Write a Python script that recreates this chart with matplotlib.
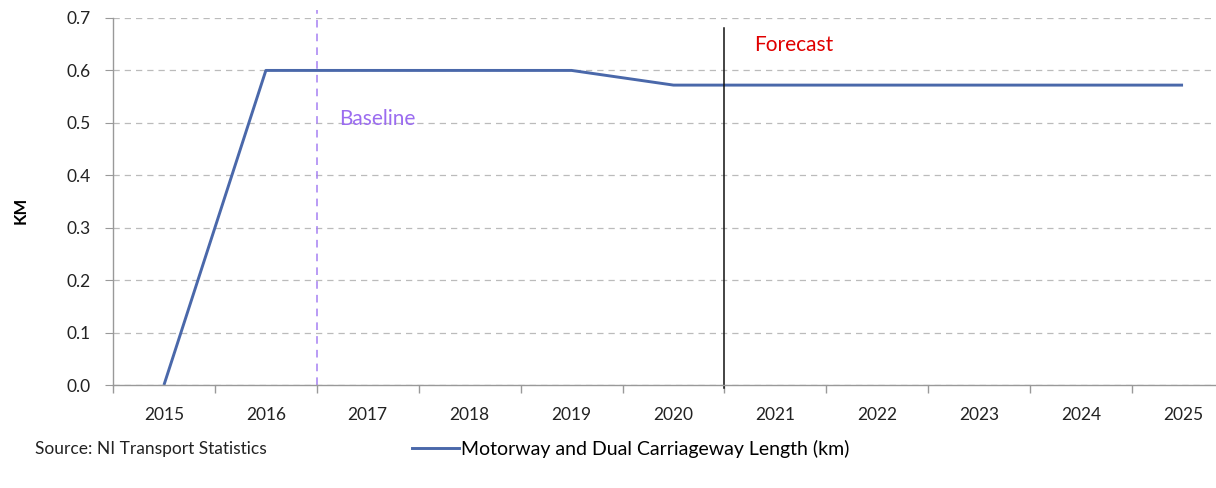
import matplotlib
matplotlib.use("Agg")
import matplotlib.pyplot as plt
from matplotlib.lines import Line2D

years = [2015, 2016, 2017, 2018, 2019, 2020, 2021, 2022, 2023, 2024, 2025]
length_km = [0.0, 0.60, 0.60, 0.60, 0.60, 0.572, 0.572, 0.572, 0.572, 0.572, 0.572]
y_ticks = [0.0, 0.1, 0.2, 0.3, 0.4, 0.5, 0.6, 0.7]
series_label = "Motorway and Dual Carriageway Length (km)"
baseline_pos = 2016.5
forecast_pos = 2020.5

plt.rcParams['font.family'] = ['Lato', 'DejaVu Sans']

W, H = 1216, 488
fig = plt.figure(figsize=(W / 100, H / 100), dpi=100)
ax = fig.add_axes([113 / W, 1 - 385 / H, (1234 - 113) / W, (385 - 18) / H])

line_color = '#4A68AA'
ax.plot(years, length_km, color=line_color, lw=2.1, solid_capstyle='butt')

ax.set_xlim(years[0] - 0.5, years[-1] + 0.5)
ax.set_ylim(0, 0.7)
ax.set_yticks(y_ticks)
ax.set_yticklabels([f"{v:.1f}" for v in y_ticks])
ax.set_xticks(years)
ax.set_xticklabels([str(y) for y in years])
ax.set_xticks([y + 0.5 for y in [years[0] - 1] + years], minor=True)
ax.tick_params(axis='x', which='major', length=0, pad=16, labelsize=12.5, labelcolor='#222222')
ax.tick_params(axis='x', which='minor', length=6, color='#999999', width=1)
ax.tick_params(axis='y', length=6, color='#999999', labelsize=12.5, labelcolor='#222222', pad=10)

ax.grid(axis='y', linestyle=(0, (5, 4)), color='#BBBBBB', lw=0.9)
ax.set_axisbelow(True)
for s in ['top', 'right']:
    ax.spines[s].set_visible(False)
for s in ['left', 'bottom']:
    ax.spines[s].set_color('#999999')
    ax.spines[s].set_linewidth(1.0)

ax.set_ylabel("KM", fontsize=12, fontweight='bold')
ax.yaxis.set_label_coords(-84 / (1234 - 113), 0.475)

# Baseline marker
ax.plot([baseline_pos, baseline_pos], [0, 0.715], color='#A580F2', lw=1.1,
        linestyle=(0, (5, 4)), clip_on=False)
ax.text(baseline_pos + 0.22, 0.508, "Baseline", color='#9B6CF0', fontsize=15,
        va='center', ha='left')

# Forecast marker
ax.plot([forecast_pos, forecast_pos], [-0.006, 0.68], color='#111111', lw=1.1,
        clip_on=False)
ax.text(forecast_pos + 0.29, 0.648, "Forecast", color='#E00000', fontsize=15,
        va='center', ha='left')

fig.text(35 / W, 1 - 449 / H, "Source: NI Transport Statistics", fontsize=12.5,
         va='center', ha='left', color='#222222')
handle = Line2D([], [], color=line_color, lw=2.1)
fig.legend([handle], [series_label], loc='center left',
           bbox_to_anchor=(412 / W, 1 - 449 / H), frameon=False,
           fontsize=14, handlelength=2.4, handletextpad=0.12,
           borderpad=0, borderaxespad=0)

fig.savefig("out.png", dpi=100)
